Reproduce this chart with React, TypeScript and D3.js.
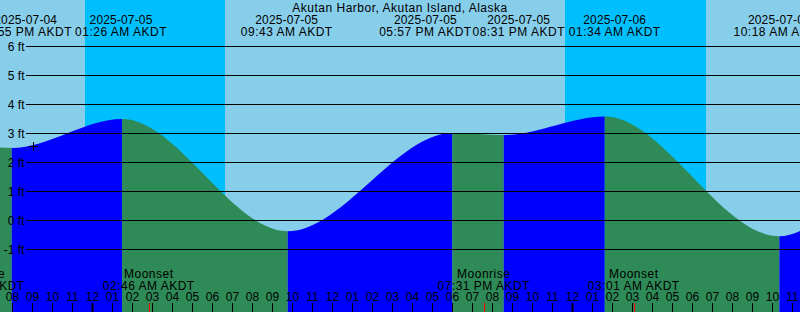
import React from "react";
import * as d3 from "d3";

const TITLE = "Akutan Harbor, Akutan Island, Alaska";

// Hours since 2025-07-04 00:00 AKDT
const extremeHours = [7.0, 13.33, 19.917, 25.433, 33.717, 41.95, 44.517, 49.567, 58.3, 65.5, 71.8];
const extremeFeet = [0.2, 3.2, 2.48, 3.48, -0.39, 3.0, 2.93, 3.57, -0.56, 2.7, 0.6];
const extremeDates = ["", "", "2025-07-04", "2025-07-05", "2025-07-05", "2025-07-05", "2025-07-05", "2025-07-06", "2025-07-06", "", ""];
const extremeTimes = ["", "", "07:55 PM AKDT", "01:26 AM AKDT", "09:43 AM AKDT", "05:57 PM AKDT", "08:31 PM AKDT", "01:34 AM AKDT", "10:18 AM AKDT", "", ""];

const sunsetHours = [23.58, 47.58];
const sunriseHours = [30.58, 54.63];

const moonHours = [18.25, 26.767, 43.517, 51.017];
const moonKinds = ["Moonrise", "Moonset", "Moonrise", "Moonset"];
const moonTimes = ["06:15 PM AKDT", "02:46 AM AKDT", "07:31 PM AKDT", "03:01 AM AKDT"];

const levelTicks = [-1, 0, 1, 2, 3, 4, 5, 6];

const nowHour = 21.03;
const nowFeet = 2.54;

// layout
const W = 800;
const H = 312;
const T0 = 19.33;
const HOURS = 40;
const LABEL_DX = [0, 0, 14, -1, -1, -27, 15, 10, 0, 0, 0];
const FONT = "'Liberation Sans', Arial, sans-serif";
const DAY = "#87ceeb";
const NIGHT = "#00bfff";
const FLOOD = "#0000ff";
const EBB = "#2e8b57";

export default function App() {
  const x = d3.scaleLinear().domain([T0, T0 + HOURS]).range([0, W]);
  const y = d3.scaleLinear().domain([-1, 6]).range([249, 46]);

  const pts = extremeHours.map((h, i) => ({ h, v: extremeFeet[i] }));
  const area = d3
    .area<{ h: number; v: number }>()
    .x((d) => x(d.h))
    .y0(H)
    .y1((d) => y(d.v))
    .curve(d3.curveMonotoneX);

  const hours = d3.range(Math.ceil(T0), Math.floor(T0 + HOURS) + 1);
  const snap = (v: number) => Math.round(v) - 0.5;
  const px = snap(x(nowHour));
  const py = Math.round(y(nowFeet)) + 0.5;

  return (
    <svg
      width={W}
      height={H}
      style={{ position: "absolute", left: 0, top: 0, display: "block" }}
      fontFamily={FONT}
      fontSize={12}
    >
      <defs>
        <clipPath id="tide">
          <path d={area(pts) || ""} />
        </clipPath>
      </defs>
      <rect x={0} y={0} width={W} height={H} fill={DAY} />
      {sunsetHours.map((s, i) => (
        <rect key={i} x={x(s)} y={0} width={x(sunriseHours[i]) - x(s)} height={H} fill={NIGHT} />
      ))}
      <g clipPath="url(#tide)">
        {pts.slice(0, -1).map((p, i) => {
          const n = pts[i + 1];
          return (
            <rect
              key={i}
              x={x(p.h)}
              y={0}
              width={x(n.h) - x(p.h)}
              height={H}
              fill={n.v > p.v ? FLOOD : EBB}
            />
          );
        })}
      </g>
      {levelTicks.map((l) => (
        <g key={l}>
          <line x1={26} x2={W} y1={y(l) + 0.5} y2={y(l) + 0.5} stroke="#000" strokeWidth={1} />
          <text x={24.5} y={y(l) + 4.5} textAnchor="end" fill="#000">
            {l} ft
          </text>
        </g>
      ))}
      <text x={400} y={12} textAnchor="middle" style={{ letterSpacing: "0.5px" }}>
        {TITLE}
      </text>
      {extremeHours.map((h, i) =>
        extremeDates[i] ? (
          <g key={i}>
            <text x={x(h) + LABEL_DX[i]} y={23.5} textAnchor="middle" style={{ letterSpacing: "0.15px" }}>
              {extremeDates[i]}
            </text>
            <text x={x(h) + LABEL_DX[i]} y={35.5} textAnchor="middle" style={{ letterSpacing: "0.5px" }}>
              {extremeTimes[i]}
            </text>
          </g>
        ) : null
      )}
      {moonHours.map((h, i) => (
        <g key={i}>
          <text x={x(h)} y={277.5} textAnchor="middle" style={{ letterSpacing: "0.5px" }}>
            {moonKinds[i]}
          </text>
          <text x={x(h)} y={289.5} textAnchor="middle" style={{ letterSpacing: "0.5px" }}>
            {moonTimes[i]}
          </text>
          <line x1={snap(x(h)) + 1} x2={snap(x(h)) + 1} y1={303} y2={H} stroke="#ff0000" strokeWidth={1} />
        </g>
      ))}
      {hours.map((h) => {
        const hx = snap(x(h));
        const lab = String(h % 12 === 0 ? 12 : h % 12).padStart(2, "0");
        const mid = h % 24 === 0;
        return (
          <g key={h}>
            <text x={hx} y={301} textAnchor="middle">
              {lab}
            </text>
            <line x1={hx} x2={hx} y1={303} y2={H} stroke="#000" strokeWidth={mid ? 2 : 1} />
          </g>
        );
      })}
      <g stroke="#000" strokeWidth={1}>
        <line x1={px - 4.5} x2={px + 4.5} y1={py} y2={py} />
        <line x1={px} x2={px} y1={py - 4.5} y2={py + 4.5} />
      </g>
    </svg>
  );
}
